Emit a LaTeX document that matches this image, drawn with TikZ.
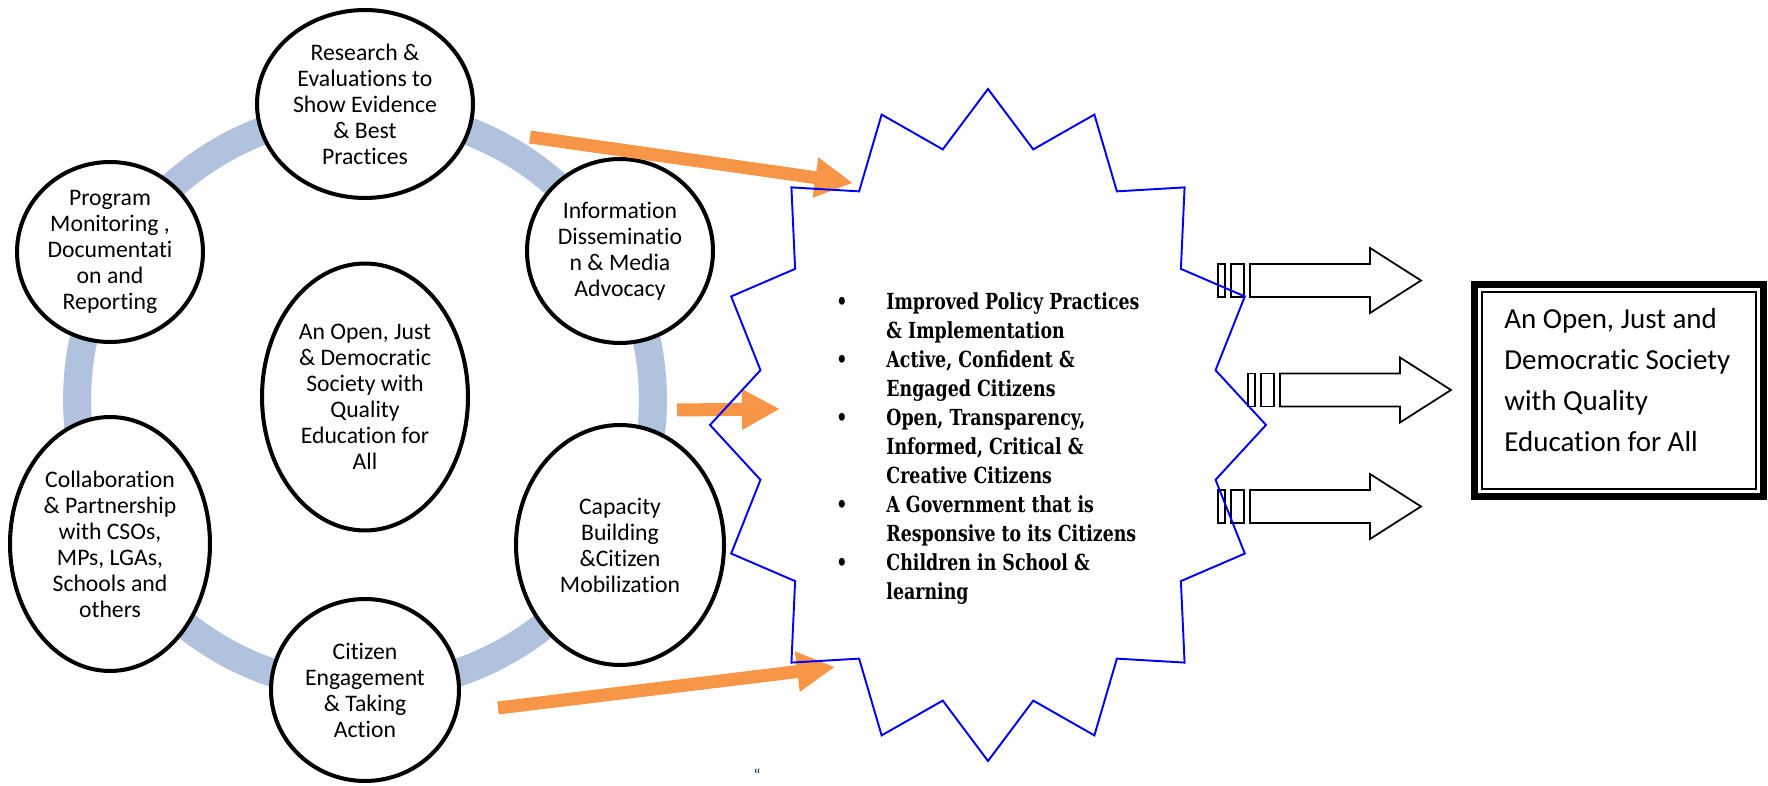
\documentclass[tikz,border=0pt]{standalone}
\usepackage{fontspec}
\setmainfont{Carlito}[Ligatures={NoCommon,NoRequired,NoContextual}, Contextuals=NoAlternate]
\newfontfamily\listfont[FakeStretch=0.785]{DejaVu Serif}
\usetikzlibrary{shapes.geometric,arrows.meta}

\definecolor{ringblue}{RGB}{176,194,222}
\definecolor{pushorange}{RGB}{247,150,70}
\definecolor{quoteblue}{RGB}{31,56,100}

\tikzstyle{activity} = [ellipse, draw, line width=2.3pt, fill=white, inner sep=0pt, align=center, font=\fontsize{13.5}{14.8}\selectfont]
\tikzstyle{push} = [draw=pushorange, line width=0.26cm, -{Triangle[length=0.76cm,width=0.76cm]}]
\tikzstyle{seal} = [draw=blue, line width=1.1pt, line join=miter]
\tikzstyle{stripe} = [draw, line width=1pt]
\tikzstyle{outcome} = [draw, line width=1pt, fill=white, line join=miter]
\tikzstyle{goalframe} = [draw, line width=4pt, minimum width=5.79cm, minimum height=4.25cm]
\tikzstyle{goaltext} = [inner sep=0pt, align=left, font=\fontsize{16.5}{23.3}\selectfont]
\tikzstyle{goallist} = [inner sep=0pt, font=\listfont\bfseries\fontsize{12.6}{16.56}\selectfont]

\begin{document}
\begin{tikzpicture}[x=0.02cm, y=-0.02cm]
\useasboundingbox (0,0) rectangle (1768,786);

% cycle of activities
\draw[ringblue, line width=0.56cm] (365,400) circle [radius=5.76cm];

\node (research) at (365,104) [activity, minimum width=4.32cm, minimum height=3.76cm] {Research \&\\Evaluations to\\Show Evidence\\\& Best\\Practices};
\node (monitor) at (110,252) [activity, minimum width=3.72cm, minimum height=3.6cm] {Program\\Monitoring ,\\Documentati\\on and\\Reporting};
\node (inform) at (620,251) [activity, minimum width=3.72cm, minimum height=3.68cm] {Information\\Disseminatio\\n \& Media\\Advocacy};
\node (vision) at (365,397) [activity, minimum width=4.12cm, minimum height=5.34cm] {An Open, Just\\\& Democratic\\Society with\\Quality\\Education for\\All};
\node (partner) at (110,544) [activity, minimum width=4.0cm, minimum height=5.08cm] {Collaboration\\\& Partnership\\with CSOs,\\MPs, LGAs,\\Schools and\\others};
\node (capacity) at (620,545) [activity, minimum width=4.16cm, minimum height=4.8cm] {Capacity\\Building\\\&Citizen\\Mobilization};
\node (engage) at (365,690) [activity, minimum width=3.76cm, minimum height=3.64cm] {Citizen\\Engagement\\\& Taking\\Action};

% orange pushes into the outcomes
\coordinate (r1) at (530,137);
\coordinate (s1) at (853,183);
\coordinate (r2) at (677,410);
\coordinate (s2) at (780,409);
\coordinate (r3) at (498,708);
\coordinate (s3) at (835,667);
\draw[push] (r1) -- (s1);
\draw[push] (r2) -- (s2);
\draw[push] (r3) -- (s3);

% striped block arrows
\foreach \bx/\by in {1218/280.5, 1248/390, 1218/506.5} {
  \draw[stripe] (\bx,\by-16.5) rectangle ++(7,33);
  \draw[stripe] (\bx+13,\by-16.5) rectangle ++(13,33);
  \draw[outcome] (\bx+32,\by-16.5) -- ++(120,0) -- ++(0,-16) -- (\bx+203,\by)
    -- (\bx+152,\by+32.5) -- ++(0,-16) -- (\bx+32,\by+16.5) -- cycle;
}

% outcomes seal
\begin{scope}[shift={(988,425)}]
\draw[seal] (101.25:232 and 281) \foreach \k in {1,...,15} { -- (90+22.5*\k:278 and 336) -- (101.25+22.5*\k:232 and 281) } -- (450:278 and 336) -- cycle;
\end{scope}

\node[goallist, anchor=north west] (goals) at (836,288.3) {\begin{tabular}[t]{@{}l@{\hspace{0.78cm}}l@{}}
• & Improved Policy Practices\\
  & \& Implementation\\
• & Active, Confident \&\\
  & Engaged Citizens\\
• & Open, Transparency,\\
  & Informed, Critical \&\\
  & Creative Citizens\\
• & A Government that is\\
  & Responsive to its Citizens\\
• & Children in School \&\\
  & learning
\end{tabular}};

% goal box
\node[goalframe] (goalbox) at (1619,390.4) {};
\draw[line width=1.1pt] ([xshift=0.22cm,yshift=-0.22cm]goalbox.north west) rectangle ([xshift=-0.22cm,yshift=0.22cm]goalbox.south east);
\node[goaltext, anchor=north west] (goaltext) at (1504,308.5) {An Open, Just and\\Democratic Society\\with Quality\\Education for All};

\node[text=quoteblue, inner sep=0pt, font=\fontsize{10}{12}\selectfont] (quote) at (757,775) {“};
\end{tikzpicture}
\end{document}
